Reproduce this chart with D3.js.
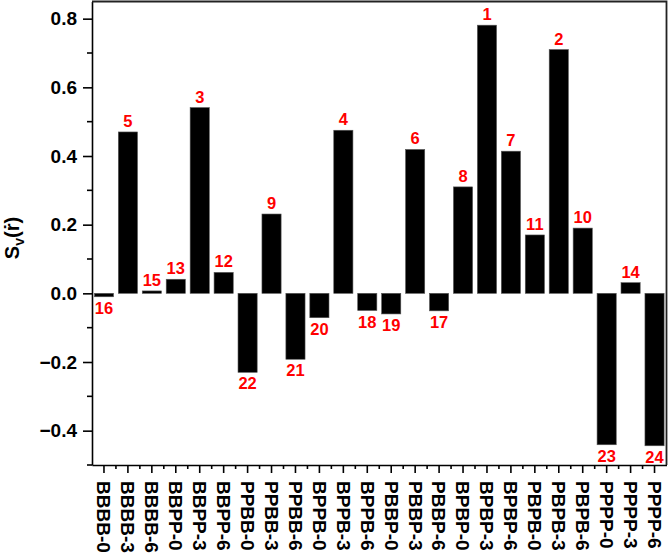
<!DOCTYPE html>
<html>
<head>
<meta charset="utf-8">
<script src="https://cdn.jsdelivr.net/npm/d3@7"></script>
<style>
  body { margin: 0; background: #fff; }
  text { font-family: Arial, "Liberation Sans", sans-serif; font-weight: bold; }
</style>
</head>
<body>
<svg id="chart" width="669" height="555"></svg>
<script>
const categories = [
  'BBBB-0', 'BBBB-3', 'BBBB-6', 'BBPP-0', 'BBPP-3', 'BBPP-6',
  'PPBB-0', 'PPBB-3', 'PPBB-6', 'BPPB-0', 'BPPB-3', 'BPPB-6',
  'PBBP-0', 'PBBP-3', 'PBBP-6', 'BPBP-0', 'BPBP-3', 'BPBP-6',
  'PBPB-0', 'PBPB-3', 'PBPB-6', 'PPPP-0', 'PPPP-3', 'PPPP-6'
]
const values = [
  -0.01, 0.47, 0.007, 0.041, 0.541, 0.061,
  -0.23, 0.231, -0.192, -0.071, 0.475, -0.05,
  -0.06, 0.419, -0.051, 0.31, 0.781, 0.414,
  0.17, 0.71, 0.19, -0.441, 0.031, -0.444
]
const ranks = [
  16, 5, 15, 13, 3, 12,
  22, 9, 21, 20, 4, 18,
  19, 6, 17, 8, 1, 7,
  11, 2, 10, 23, 14, 24
]
const majorTicks = [-0.4, -0.2, 0.0, 0.2, 0.4, 0.6, 0.8]
const minorTicks = [-0.5, -0.3, -0.1, 0.1, 0.3, 0.5, 0.7]

const rows = categories.map((c, i) => ({ cat: c, value: values[i], rank: ranks[i] }))

const size = { width: 669, height: 555 }
const margin = { top: 1.5, right: 2.5, bottom: 90, left: 92 }
const svg = d3.select('#chart')

// Scales
const x = d3
  .scaleBand()
  .domain(categories)
  .range([margin.left, size.width - margin.right])
  .paddingInner(0.2)
  .paddingOuter(0.1)
const y = d3
  .scaleLinear()
  .domain([-0.5, 0.85])
  .range([size.height - margin.bottom, margin.top])

// bars
svg
  .append('g')
  .selectAll('rect')
  .data(rows)
  .enter()
  .append('rect')
  .attr('x', d => x(d.cat))
  .attr('width', x.bandwidth())
  .attr('y', d => y(Math.max(0, d.value)))
  .attr('height', d => Math.abs(y(d.value) - y(0)))
  .attr('fill', '#000')
  .attr('stroke', '#555')
  .attr('stroke-width', 0.6)

// rank labels
svg
  .append('g')
  .selectAll('text')
  .data(rows)
  .enter()
  .append('text')
  .attr('x', d => x(d.cat) + x.bandwidth() / 2)
  .attr('y', d => (d.value >= 0 ? y(d.value) - 5 : y(d.value) + 17))
  .attr('text-anchor', 'middle')
  .attr('fill', '#ff0000')
  .attr('font-size', 16.5)
  .text(d => d.rank)

// y axis
const yAxis = svg
  .append('g')
  .attr('transform', `translate(${margin.left},0)`)
  .call(
    d3
      .axisLeft(y)
      .tickValues(majorTicks)
      .tickFormat(d3.format('.1f'))
      .tickSize(9)
      .tickSizeOuter(0)
      .tickPadding(6)
  )
yAxis.selectAll('text').attr('font-size', 19).attr('fill', '#000')
yAxis
  .selectAll('.minor')
  .data(minorTicks)
  .enter()
  .append('line')
  .attr('class', 'minor')
  .attr('x1', -5)
  .attr('x2', 0)
  .attr('y1', d => y(d))
  .attr('y2', d => y(d))

// x axis
const xAxis = svg
  .append('g')
  .attr('transform', `translate(0,${size.height - margin.bottom})`)
  .call(d3.axisBottom(x).tickSize(8).tickSizeOuter(0).tickPadding(8))
xAxis
  .selectAll('.tick text')
  .attr('font-size', 19)
  .attr('fill', '#000')
  .attr('text-anchor', 'start')
  .attr('transform', 'rotate(90)')
  .attr('x', 16)
  .attr('y', 0)
  .attr('dy', '0.35em')
xAxis
  .selectAll('.minor')
  .data(categories.slice(1))
  .enter()
  .append('line')
  .attr('class', 'minor')
  .attr('x1', d => x(d) - (x.step() - x.bandwidth()) / 2)
  .attr('x2', d => x(d) - (x.step() - x.bandwidth()) / 2)
  .attr('y1', 0)
  .attr('y2', 4)

svg.selectAll('.domain, .tick line, .minor')
  .attr('stroke', '#000')
  .attr('stroke-width', 1.6)

// frame top + right
svg
  .append('path')
  .attr('d', `M${margin.left},${y(0.85)}H${size.width - margin.right}V${y(-0.5)}`)
  .attr('fill', 'none')
  .attr('stroke', '#222')
  .attr('stroke-width', 1.8)

// y title
const title = svg
  .append('text')
  .attr('transform', 'translate(19,238) rotate(-90)')
  .attr('text-anchor', 'middle')
  .attr('font-size', 20)
  .attr('fill', '#000')
title.append('tspan').text('S')
title.append('tspan').attr('font-size', 14).attr('dy', 5).text('v')
title.append('tspan').attr('dy', -5).text('(ṙ)')
</script>
</body>
</html>
